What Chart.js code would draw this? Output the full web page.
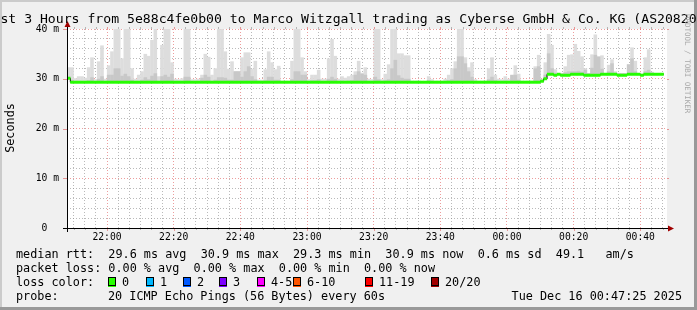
<!DOCTYPE html>
<html lang="en">
<head>
<meta charset="UTF-8">
<title>SmokePing - Last 3 Hours</title>
<script src="https://cdn.jsdelivr.net/npm/chart.js"></script>
<style>
  html, body { margin: 0; padding: 0; background: #f0f0f0; }
  canvas { display: block; }
</style>
</head>
<body>
<canvas id="smokeChart" width="697" height="310"></canvas>
<script>
// one bin per minute (probe every 60s), bin 0 starts at 21:48
const medianRtt = [
  30.1, 29.3, 29.3, 29.3, 29.3, 29.3, 29.3, 29.3, 29.3, 29.3,
  29.3, 29.3, 29.3, 29.3, 29.3, 29.3, 29.3, 29.3, 29.3, 29.3,
  29.3, 29.3, 29.3, 29.3, 29.3, 29.3, 29.3, 29.3, 29.3, 29.3,
  29.3, 29.3, 29.3, 29.3, 29.3, 29.3, 29.3, 29.3, 29.3, 29.3,
  29.3, 29.3, 29.3, 29.3, 29.3, 29.3, 29.3, 29.3, 29.3, 29.3,
  29.3, 29.3, 29.3, 29.3, 29.3, 29.3, 29.3, 29.3, 29.3, 29.3,
  29.3, 29.3, 29.3, 29.3, 29.3, 29.3, 29.3, 29.3, 29.3, 29.3,
  29.3, 29.3, 29.3, 29.3, 29.3, 29.3, 29.3, 29.3, 29.3, 29.3,
  29.3, 29.3, 29.3, 29.3, 29.3, 29.3, 29.3, 29.3, 29.3, 29.3,
  29.3, 29.3, 29.3, 29.3, 29.3, 29.3, 29.3, 29.3, 29.3, 29.3,
  29.3, 29.3, 29.3, 29.3, 29.3, 29.3, 29.3, 29.3, 29.3, 29.3,
  29.3, 29.3, 29.3, 29.3, 29.3, 29.3, 29.3, 29.3, 29.3, 29.3,
  29.3, 29.3, 29.3, 29.3, 29.3, 29.3, 29.3, 29.3, 29.3, 29.3,
  29.3, 29.3, 29.3, 29.3, 29.3, 29.3, 29.3, 29.3, 29.3, 29.3,
  29.3, 29.3, 29.5, 30.0, 30.9, 30.9, 30.7, 30.9, 30.7, 30.7,
  30.7, 30.9, 30.9, 30.9, 30.9, 30.7, 30.7, 30.7, 30.7, 30.7,
  30.9, 30.9, 30.9, 30.9, 30.9, 30.7, 30.7, 30.7, 30.9, 30.9,
  30.9, 30.9, 30.7, 30.9, 30.9, 30.9, 30.9, 30.9, 30.9
];

// highest ping of each bin (light smoke)
const smokeMax = [
  32.3, 32.3, 30.1, 30.5, 30.5, 30.2, 32.3, 34.3, 29.9, 33.5,
  36.7, 30.0, 32.7, 35.5, 40, 40, 34.1, 40, 40, 32.1,
  30.0, 30.8, 31.5, 35.0, 34.6, 37.8, 40, 30.5, 36.8, 40,
  40, 33.3, 30.0, 29.9, 30.1, 40, 40, 29.9, 29.9, 30.0,
  30.8, 35.0, 34.4, 30.8, 32.1, 40, 40, 35.5, 32.0, 33.5,
  31.5, 31.5, 34.3, 35.3, 35.3, 32.0, 33.6, 29.8, 29.8, 31.9,
  35.5, 33.3, 31.9, 32.6, 29.6, 29.6, 29.6, 33.6, 40, 40,
  34.3, 31.5, 29.9, 30.8, 30.8, 31.8, 30.0, 30.0, 34.1, 38.0,
  34.6, 30.0, 30.5, 30.2, 30.5, 30.8, 31.5, 33.6, 31.2, 32.3,
  30.0, 29.9, 40, 40, 29.9, 31.0, 32.9, 40, 40, 35.1,
  35.1, 34.7, 34.7, 29.6, 29.6, 29.6, 29.5, 29.5, 30.5, 29.9,
  29.6, 29.6, 29.6, 30.0, 30.8, 32.1, 33.5, 40, 40, 34.3,
  32.3, 33.3, 29.9, 29.6, 29.6, 29.6, 32.1, 34.3, 30.8, 30.0,
  29.9, 30.5, 30.0, 30.7, 32.7, 31.0, 29.6, 29.6, 29.6, 29.6,
  32.5, 34.8, 30.0, 33.3, 39.0, 36.8, 31.9, 31.1, 31.1, 32.5,
  34.8, 34.9, 37.0, 35.6, 34.5, 32.1, 31.1, 34.9, 38.9, 33.8,
  34.7, 31.1, 32.8, 33.9, 31.5, 31.1, 31.1, 31.1, 32.9, 36.3,
  33.6, 31.1, 31.0, 34.3, 35.9, 31.4, 31.1, 31.1, 31.1
];

// upper edge of the denser (darker) smoke
const smokeMid = [
  30.4, 29.8, 29.5, 29.5, 29.5, 29.5, 29.7, 30.3, 29.5, 30.0,
  30.5, 29.5, 30.8, 30.8, 32.1, 32.1, 30.6, 31.0, 30.5, 29.8,
  29.5, 29.5, 29.8, 30.3, 29.9, 30.6, 31.1, 29.5, 30.5, 30.8,
  30.4, 31.0, 29.5, 29.5, 29.5, 30.4, 30.4, 29.5, 29.5, 29.5,
  30.2, 30.8, 30.4, 29.5, 29.8, 30.3, 30.3, 30.2, 29.8, 29.8,
  31.5, 31.5, 30.4, 31.5, 32.5, 30.5, 29.9, 29.5, 29.5, 29.7,
  30.4, 30.4, 29.8, 29.8, 29.5, 29.5, 29.5, 29.9, 31.5, 31.5,
  30.8, 30.8, 29.5, 29.7, 29.7, 29.9, 29.5, 29.5, 30.0, 30.4,
  30.0, 29.5, 29.6, 29.5, 29.6, 29.7, 30.8, 31.5, 31.0, 30.8,
  29.5, 29.5, 30.4, 29.9, 29.5, 29.7, 29.9, 32.1, 33.8, 30.7,
  30.2, 30.0, 30.0, 29.5, 29.5, 29.5, 29.5, 29.5, 29.7, 29.5,
  29.5, 29.5, 29.5, 29.5, 29.7, 29.9, 32.1, 34.5, 34.5, 33.1,
  31.5, 30.4, 29.5, 29.5, 29.5, 29.5, 29.9, 30.4, 29.7, 29.5,
  29.5, 29.6, 29.5, 30.8, 30.8, 29.8, 29.5, 29.5, 29.5, 29.5,
  32.1, 32.5, 29.7, 30.8, 35.1, 32.1, 31.2, 31.1, 31.1, 31.3,
  31.5, 31.5, 31.5, 31.6, 31.4, 31.8, 31.1, 32.2, 34.8, 34.5,
  32.0, 31.1, 31.5, 33.1, 31.2, 31.1, 31.1, 31.1, 32.9, 34.1,
  31.5, 31.1, 31.0, 31.5, 31.8, 31.2, 31.1, 31.1, 31.1
];

// time axis: minutes since 21:48
const majorTicks = [12, 32, 52, 72, 92, 112, 132, 152, 172];
const timeLabels = ['22:00', '22:20', '22:40', '23:00', '23:20', '23:40', '00:00', '00:20', '00:40'];
const yTickValues = [0, 10, 20, 30, 40];
const yTickLabels = ['0  ', '10 m', '20 m', '30 m', '40 m'];

const titleText = 'Last 3 Hours from 5e88c4fe0b00 to Marco Witzgall trading as Cyberse GmbH & Co. KG (AS208205)';
const rttStats = ['29.6 ms avg', '30.9 ms max', '29.3 ms min', '30.9 ms now', '0.6 ms sd', '49.1   am/s'];
const lossStats = ['0.00 % avg', '0.00 % max', '0.00 % min', '0.00 % now'];
const lossLabels = ['0', '1', '2', '3', '4-5', '6-10', '11-19', '20/20'];
const lossColors = ['#26ff00', '#00b8ff', '#0059ff', '#7e00ff', '#ff00ff', '#ff5500', '#ff0000', '#a10000'];
const probeText = '20 ICMP Echo Pings (56 Bytes) every 60s';
const stampText = 'Tue Dec 16 00:47:25 2025';

const mono = '"DejaVu Sans Mono", monospace';
const gridGray = 'rgba(140,140,140,0.6)';
const gridRed = 'rgba(220,60,60,0.5)';
const lossBoxX = [108, 146, 183, 219, 257, 293, 365, 431];

// grid every 200s, major every 20 min
const gridMinutes = [];
for (let k = 0; 2 + k * 10 / 3 <= 180; k++) gridMinutes.push(2 + k * 10 / 3);
const isMajor = v => majorTicks.some(m => Math.abs(m - v) < 1e-6);

const lightBars = smokeMax.map((v, i) => ({ x: i + 0.5, y: [medianRtt[i], v] }));
const darkBars = smokeMid.map((v, i) => ({ x: i + 0.5, y: [medianRtt[i], v] }));
const greenBand = medianRtt.map((v, i) => ({ x: i + 0.5, y: [v - 0.3, v + 0.3] }));
const medianLine = medianRtt.map((v, i) => ({ x: i, y: v }));
medianLine.push({ x: medianRtt.length, y: medianRtt[medianRtt.length - 1] });

const rrdFrame = {
  id: 'rrdFrame',
  beforeDraw(chart) {
    const { ctx, chartArea: a, width, height } = chart;
    ctx.save();
    ctx.fillStyle = '#f0f0f0';
    ctx.fillRect(0, 0, width, height);
    ctx.fillStyle = '#cbcbcb';
    ctx.fillRect(0, 0, width, 2);
    ctx.fillRect(0, 0, 2, height);
    ctx.fillStyle = '#999999';
    ctx.fillRect(0, height - 3, width, 3);
    ctx.fillRect(width - 3, 0, 3, height);
    ctx.fillStyle = '#ffffff';
    ctx.fillRect(a.left, a.top, a.right - a.left, a.bottom - a.top);
    ctx.restore();
  },
  afterDraw(chart) {
    const { ctx, chartArea: a, scales } = chart;
    ctx.save();
    ctx.lineWidth = 1;

    // small marks outside the plot
    gridMinutes.forEach(v => {
      const px = Math.round(scales.x.getPixelForValue(v)) + 0.5;
      ctx.strokeStyle = isMajor(v) ? gridRed : gridGray;
      ctx.beginPath();
      ctx.moveTo(px, a.bottom);
      ctx.lineTo(px, a.bottom + (isMajor(v) ? 3 : 2));
      ctx.moveTo(px, a.top);
      ctx.lineTo(px, a.top - 2);
      ctx.stroke();
    });
    yTickValues.forEach(v => {
      const py = Math.round(scales.y.getPixelForValue(v)) + 0.5;
      ctx.strokeStyle = gridRed;
      ctx.beginPath();
      ctx.moveTo(a.left - 4, py);
      ctx.lineTo(a.left, py);
      ctx.moveTo(a.right, py);
      ctx.lineTo(a.right + 2, py);
      ctx.stroke();
    });

    // axes with arrows
    ctx.strokeStyle = '#000000';
    ctx.beginPath();
    ctx.moveTo(a.left - 4, a.bottom + 0.5);
    ctx.lineTo(a.right + 2, a.bottom + 0.5);
    ctx.moveTo(a.left + 0.5, a.bottom + 4);
    ctx.lineTo(a.left + 0.5, a.top - 3);
    ctx.stroke();
    ctx.fillStyle = '#a00000';
    ctx.beginPath();
    ctx.moveTo(a.right + 7, a.bottom + 0.5);
    ctx.lineTo(a.right + 1, a.bottom - 2.5);
    ctx.lineTo(a.right + 1, a.bottom + 3.5);
    ctx.closePath();
    ctx.fill();
    ctx.beginPath();
    ctx.moveTo(a.left + 0.5, a.top - 8);
    ctx.lineTo(a.left - 2.5, a.top - 2);
    ctx.lineTo(a.left + 3.5, a.top - 2);
    ctx.closePath();
    ctx.fill();

    // title
    ctx.fillStyle = '#000000';
    ctx.font = '13.15px ' + mono;
    ctx.textAlign = 'center';
    ctx.textBaseline = 'alphabetic';
    ctx.fillText(titleText, 348.5, 23);

    // vertical axis title
    ctx.save();
    ctx.translate(11, 128);
    ctx.rotate(-Math.PI / 2);
    ctx.font = '11.8px ' + mono;
    ctx.textAlign = 'center';
    ctx.textBaseline = 'middle';
    ctx.fillText('Seconds', 0, 0);
    ctx.restore();

    // credit on the right edge
    ctx.save();
    ctx.translate(686.5, 14);
    ctx.rotate(Math.PI / 2);
    ctx.font = '7.5px ' + mono;
    ctx.fillStyle = '#a8a8a8';
    ctx.textAlign = 'left';
    ctx.textBaseline = 'middle';
    ctx.fillText('RRDTOOL / TOBI OETIKER', 0, 0);
    ctx.restore();

    // legend rows
    ctx.font = '11.8px ' + mono;
    ctx.textAlign = 'left';
    ctx.textBaseline = 'alphabetic';
    ctx.fillStyle = '#000000';
    ctx.fillText('median rtt:  ' + rttStats.join('  '), 16, 258);
    ctx.fillText('packet loss: ' + lossStats.join('  '), 16, 272);
    ctx.fillText('loss color:', 16, 286);
    lossLabels.forEach((lab, i) => {
      const bx = lossBoxX[i];
      ctx.fillStyle = lossColors[i];
      ctx.fillRect(bx, 278, 8, 9);
      ctx.strokeStyle = '#000000';
      ctx.strokeRect(bx + 0.5, 277.5, 7, 8);
      ctx.fillStyle = '#000000';
      ctx.fillText(lab, bx + 14, 286);
    });
    ctx.fillText('probe:', 16, 300);
    ctx.fillText(probeText, 108, 300);
    ctx.textAlign = 'right';
    ctx.fillText(stampText, 682, 300);
    ctx.restore();
  }
};

const ctx = document.getElementById('smokeChart').getContext('2d');
new Chart(ctx, {
  type: 'bar',
  data: {
    datasets: [
      { type: 'bar', data: greenBand, backgroundColor: '#26ff00', order: 0 },
      { type: 'line', data: medianLine, borderColor: '#000000', borderWidth: 1, stepped: true, pointRadius: 0, fill: false, order: 1 },
      { type: 'bar', data: darkBars, backgroundColor: '#c8c8c8', order: 2 },
      { type: 'bar', data: lightBars, backgroundColor: '#dddddd', order: 3 }
    ]
  },
  options: {
    responsive: false,
    animation: false,
    events: [],
    devicePixelRatio: 1,
    layout: { padding: { top: 29, right: 30, bottom: 0, left: 0 } },
    datasets: { bar: { grouped: false, barPercentage: 1.08, categoryPercentage: 1, borderWidth: 0 } },
    plugins: { legend: { display: false }, tooltip: { enabled: false }, title: { display: false } },
    scales: {
      x: {
        type: 'linear',
        min: 0,
        max: 180,
        offset: false,
        z: 1,
        afterBuildTicks: s => { s.ticks = gridMinutes.map(v => ({ value: v })); },
        afterFit: s => { s.height = 82; },
        grid: {
          offset: false,
          drawTicks: false,
          color: c => isMajor(c.tick.value) ? gridRed : gridGray,
          lineWidth: 1
        },
        border: { display: false, dash: [1, 2] },
        ticks: {
          autoSkip: false,
          maxRotation: 0,
          padding: 4,
          color: '#000000',
          font: { family: mono, size: 9.7 },
          callback: v => {
            const k = majorTicks.findIndex(m => Math.abs(m - v) < 1e-6);
            return k >= 0 ? timeLabels[k] : '';
          }
        }
      },
      y: {
        type: 'linear',
        min: 0,
        max: 40,
        z: 1,
        afterBuildTicks: s => {
          const t = [];
          for (let v = 0; v <= 40; v += 2) t.push({ value: v });
          s.ticks = t;
        },
        afterFit: s => { s.width = 67; },
        grid: {
          drawTicks: false,
          color: c => c.tick.value % 10 === 0 ? gridRed : gridGray,
          lineWidth: 1
        },
        border: { display: false, dash: [1, 2] },
        ticks: {
          autoSkip: false,
          padding: 8,
          color: '#000000',
          font: { family: mono, size: 9.7 },
          callback: v => {
            const k = yTickValues.indexOf(v);
            return k >= 0 ? yTickLabels[k] : '';
          }
        }
      }
    }
  },
  plugins: [rrdFrame]
});
</script>
</body>
</html>
